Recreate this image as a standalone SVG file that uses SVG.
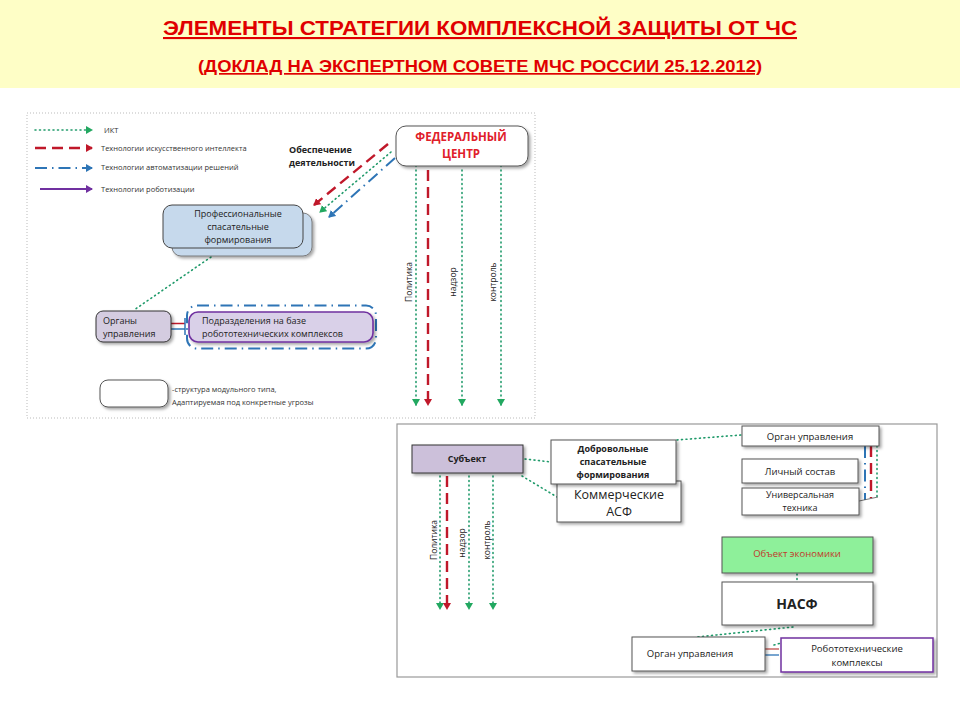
<svg xmlns="http://www.w3.org/2000/svg" width="960" height="720" viewBox="0 0 960 720">
<defs>
<style>
.t{font-family:"Open Sans","Liberation Sans",sans-serif;fill:#222}
.lg{font-size:7.5px;fill:#333}
.b{font-weight:bold}
.g{fill:none;stroke:#1F9A6A;stroke-width:1.6;stroke-dasharray:1 3.5;stroke-linecap:round}
.r{fill:none;stroke:#C0182A;stroke-width:2.4;stroke-dasharray:11 6}
.bl{fill:none;stroke:#2E75B6;stroke-width:2;stroke-dasharray:12 5 1.5 5}
.p{fill:none;stroke:#7030A0;stroke-width:1.8}
.box{fill:#fff;stroke:#555;stroke-width:1}
</style>
<marker id="mg" markerWidth="8" markerHeight="8" refX="6" refY="4" orient="auto" markerUnits="userSpaceOnUse"><path d="M0,0 L7,4 L0,8 z" fill="#22A860"/></marker>
<marker id="mr" markerWidth="8" markerHeight="8" refX="6" refY="4" orient="auto" markerUnits="userSpaceOnUse"><path d="M0,0 L7,4 L0,8 z" fill="#C0182A"/></marker>
<marker id="mb" markerWidth="8" markerHeight="8" refX="6" refY="4" orient="auto" markerUnits="userSpaceOnUse"><path d="M0,0 L7,4 L0,8 z" fill="#2E75B6"/></marker>
<marker id="mp" markerWidth="8" markerHeight="8" refX="6" refY="4" orient="auto" markerUnits="userSpaceOnUse"><path d="M0,0 L7,4 L0,8 z" fill="#7030A0"/></marker>
<filter id="sh" x="-20%" y="-20%" width="150%" height="160%"><feDropShadow dx="2" dy="2" stdDeviation="1.5" flood-color="#000" flood-opacity="0.35"/></filter>
</defs>

<rect x="0" y="0" width="960" height="720" fill="#fff"/>
<rect x="0" y="0" width="960" height="88" fill="#FEFEC6"/>
<g id="title">
<text x="480" y="35" text-anchor="middle" font-family="Liberation Sans, sans-serif" font-weight="bold" font-size="21" fill="#E00000" text-decoration="underline" textLength="634" lengthAdjust="spacingAndGlyphs">ЭЛЕМЕНТЫ СТРАТЕГИИ КОМПЛЕКСНОЙ ЗАЩИТЫ ОТ ЧС</text>
<text x="480" y="72" text-anchor="middle" font-family="Liberation Sans, sans-serif" font-weight="bold" font-size="17" fill="#E00000" text-decoration="underline" textLength="564" lengthAdjust="spacingAndGlyphs">(ДОКЛАД НА ЭКСПЕРТНОМ  СОВЕТЕ МЧС РОССИИ 25.12.2012)</text>
</g>

<!-- panels -->
<rect x="27" y="113" width="508" height="305" fill="none" stroke="#bbb" stroke-width="1" stroke-dasharray="1 2"/>
<rect x="397" y="424" width="540" height="253" fill="none" stroke="#999" stroke-width="1.2"/>

<!-- legend -->
<g id="legend">
<line x1="35" y1="130" x2="92" y2="130" class="g" marker-end="url(#mg)"/>
<text x="104" y="132.5" class="t lg">ИКТ</text>
<line x1="35" y1="148" x2="92" y2="148" class="r" marker-end="url(#mr)"/>
<text x="101" y="150.5" class="t lg">Технологии искусственного интеллекта</text>
<line x1="35" y1="168" x2="92" y2="168" class="bl" marker-end="url(#mb)"/>
<text x="101" y="170" class="t lg">Технологии автоматизации решений</text>
<line x1="40" y1="189" x2="92" y2="189" class="p" marker-end="url(#mp)"/>
<text x="101" y="191.5" class="t lg">Технологии роботизации</text>
</g>

<g id="connectors">
<line x1="388" y1="144" x2="314" y2="205" class="r" marker-end="url(#mr)"/>
<line x1="391" y1="152" x2="320" y2="212" class="g" marker-end="url(#mg)"/>
<line x1="395" y1="158" x2="329" y2="217" class="bl" marker-end="url(#mb)"/>
<line x1="416" y1="152" x2="416" y2="405" class="g" marker-end="url(#mg)"/>
<line x1="428" y1="170" x2="428" y2="405" class="r" marker-end="url(#mr)"/>
<line x1="462" y1="170" x2="462" y2="405" class="g" marker-end="url(#mg)"/>
<line x1="501" y1="152" x2="501" y2="405" class="g" marker-end="url(#mg)"/>
<line x1="211" y1="257" x2="134" y2="310" class="g"/>
<line x1="171" y1="323.5" x2="185" y2="323.5" stroke="#C0182A" stroke-width="1.5"/>
<line x1="171" y1="329" x2="185" y2="329" stroke="#2E75B6" stroke-width="1.5"/>
<line x1="185" y1="318" x2="185" y2="335" stroke="#2E75B6" stroke-width="1.5"/>
<line x1="525" y1="459" x2="551" y2="462" class="g"/>
<line x1="522" y1="476" x2="557" y2="497" class="g"/>
<line x1="677" y1="440" x2="741" y2="435" class="g"/>
<line x1="440" y1="476" x2="440" y2="609" class="g" marker-end="url(#mg)"/>
<line x1="447" y1="476" x2="447" y2="609" class="r" marker-end="url(#mr)"/>
<line x1="469" y1="476" x2="469" y2="609" class="g" marker-end="url(#mg)"/>
<line x1="493" y1="476" x2="493" y2="609" class="g" marker-end="url(#mg)"/>
<line x1="865" y1="446" x2="865" y2="500" class="bl" stroke-width="1.5"/>
<line x1="871" y1="446" x2="871" y2="498" class="r" stroke-width="1.6" stroke-dasharray="7 4"/>
<line x1="877" y1="446" x2="877" y2="497" class="g" stroke-width="1.2"/>
<line x1="859" y1="501" x2="878" y2="497" stroke="#555" stroke-width="0.8"/>
<line x1="797" y1="574" x2="797" y2="582" class="g" stroke-width="1.2"/>
<line x1="793" y1="627" x2="697" y2="637" class="g" stroke-width="1.2"/>
<line x1="765" y1="649" x2="779" y2="649" stroke="#C0504D" stroke-width="1.3"/>
<line x1="765" y1="655" x2="779" y2="655" stroke="#2E75B6" stroke-width="1.3"/>
<line x1="774" y1="645" x2="781" y2="643" class="g" stroke-width="1"/>
</g>

<g id="federal">
<rect x="396" y="126" width="132" height="40" rx="10" class="box" filter="url(#sh)"/>
<text x="461" y="141" text-anchor="middle" class="t b" font-size="11.5" style="fill:#E0202A">ФЕДЕРАЛЬНЫЙ</text>
<text x="461" y="158" text-anchor="middle" class="t b" font-size="11.5" style="fill:#E0202A">ЦЕНТР</text>
</g>
<g id="obespechenie">
<text x="289" y="153" class="t b" font-size="9">Обеспечение</text>
<text x="289" y="166" class="t b" font-size="9">деятельности</text>
</g>

<g id="professional">
<rect x="172" y="213" width="140" height="43" rx="9" fill="#C6D9EC" stroke="#666" stroke-width="0.8" filter="url(#sh)"/>
<rect x="163" y="205" width="140" height="43" rx="9" fill="#C6D9EC" stroke="#444" stroke-width="1"/>
<text x="238" y="217" text-anchor="middle" class="t" font-size="9">Профессиональные</text>
<text x="238" y="230" text-anchor="middle" class="t" font-size="9">спасательные</text>
<text x="238" y="243" text-anchor="middle" class="t" font-size="9">формирования</text>
</g>

<g id="organy">
<rect x="96" y="311" width="75" height="31" rx="7" fill="#D4CCE0" stroke="#333" stroke-width="1" filter="url(#sh)"/>
<text x="103" y="324" class="t" font-size="9">Органы</text>
<text x="103" y="337" class="t" font-size="9">управления</text>
</g>

<g id="podrazdeleniya">
<rect x="187" y="305.5" width="189" height="43" rx="10" fill="none" stroke="#2E75B6" stroke-width="2" stroke-dasharray="12 5 1.5 5"/>
<rect x="189" y="312" width="184" height="30" rx="9" fill="#D9D0E8" stroke="#7030A0" stroke-width="1.6" filter="url(#sh)"/>
<text x="202" y="324" class="t" font-size="9">Подразделения на базе</text>
<text x="202" y="337" class="t" font-size="9">робототехнических комплексов</text>
</g>

<g id="legend-box">
<rect x="100" y="380" width="68" height="27" rx="8" class="box" filter="url(#sh)"/>
<text x="172" y="392" class="t lg" font-size="8">-структура модульного типа,</text>
<text x="172" y="405" class="t lg" font-size="8">Адаптируемая под конкретные угрозы</text>
</g>

<g id="vlabels-top">
<text transform="translate(412,282) rotate(-90)" text-anchor="middle" class="t" font-size="8.5">Политика</text>
<text transform="translate(456,282) rotate(-90)" text-anchor="middle" class="t" font-size="8.5">надзор</text>
<text transform="translate(496,282) rotate(-90)" text-anchor="middle" class="t" font-size="8.5">контроль</text>
</g>

<g id="subject">
<rect x="412" y="445" width="111" height="28" fill="#CCC0DA" stroke="#333" stroke-width="1" filter="url(#sh)"/>
<text x="467" y="462" text-anchor="middle" class="t b" font-size="9">Субъект</text>
</g>

<g id="vlabels-bottom">
<text transform="translate(437,540) rotate(-90)" text-anchor="middle" class="t" font-size="8.5">Политика</text>
<text transform="translate(465,543) rotate(-90)" text-anchor="middle" class="t" font-size="8.5">надзор</text>
<text transform="translate(490,540) rotate(-90)" text-anchor="middle" class="t" font-size="8.5">контроль</text>
</g>

<g id="kommercheskie">
<rect x="557" y="481" width="124" height="41" class="box" filter="url(#sh)"/>
<text x="619" y="499" text-anchor="middle" class="t" font-size="12.5">Коммерческие</text>
<text x="619" y="516" text-anchor="middle" class="t" font-size="12.5">АСФ</text>
</g>

<g id="dobrovolnye">
<rect x="551" y="440" width="125" height="44" class="box" filter="url(#sh)"/>
<text x="613" y="452" text-anchor="middle" class="t b" font-size="9">Добровольные</text>
<text x="613" y="465" text-anchor="middle" class="t b" font-size="9">спасательные</text>
<text x="613" y="478" text-anchor="middle" class="t b" font-size="9">формирования</text>
</g>

<g id="organ-upr-top">
<rect x="742" y="426" width="137" height="20" class="box" filter="url(#sh)"/>
<text x="810" y="439.5" text-anchor="middle" class="t" font-size="9.5">Орган управления</text>
</g>
<g id="lichny">
<rect x="742" y="459" width="116" height="24" class="box" filter="url(#sh)"/>
<text x="800" y="474.5" text-anchor="middle" class="t" font-size="9.5">Личный состав</text>
</g>
<g id="universal">
<rect x="742" y="488" width="117" height="27" class="box" filter="url(#sh)"/>
<text x="800" y="498" text-anchor="middle" class="t" font-size="9">Универсальная</text>
<text x="800" y="511" text-anchor="middle" class="t" font-size="9">техника</text>
</g>

<g id="objekt">
<rect x="722" y="537" width="151" height="36" fill="#8EF09A" stroke="#555" stroke-width="1" filter="url(#sh)"/>
<text x="797" y="557" text-anchor="middle" class="t" font-size="9.5" style="fill:#C0392B">Объект экономики</text>
</g>
<g id="nasf">
<rect x="722" y="582" width="151" height="43" class="box" filter="url(#sh)"/>
<text x="797" y="609" text-anchor="middle" class="t b" font-size="14">НАСФ</text>
</g>
<g id="organ-upr-bottom">
<rect x="632" y="637" width="133" height="34" class="box" filter="url(#sh)"/>
<text x="690" y="657" text-anchor="middle" class="t" font-size="9.5">Орган управления</text>
</g>
<g id="robot">
<rect x="781" y="638" width="152" height="34" fill="#fff" stroke="#7030A0" stroke-width="1.5" filter="url(#sh)"/>
<text x="857" y="652" text-anchor="middle" class="t" font-size="9.5">Робототехнические</text>
<text x="857" y="666" text-anchor="middle" class="t" font-size="9.5">комплексы</text>
</g>
</svg>
